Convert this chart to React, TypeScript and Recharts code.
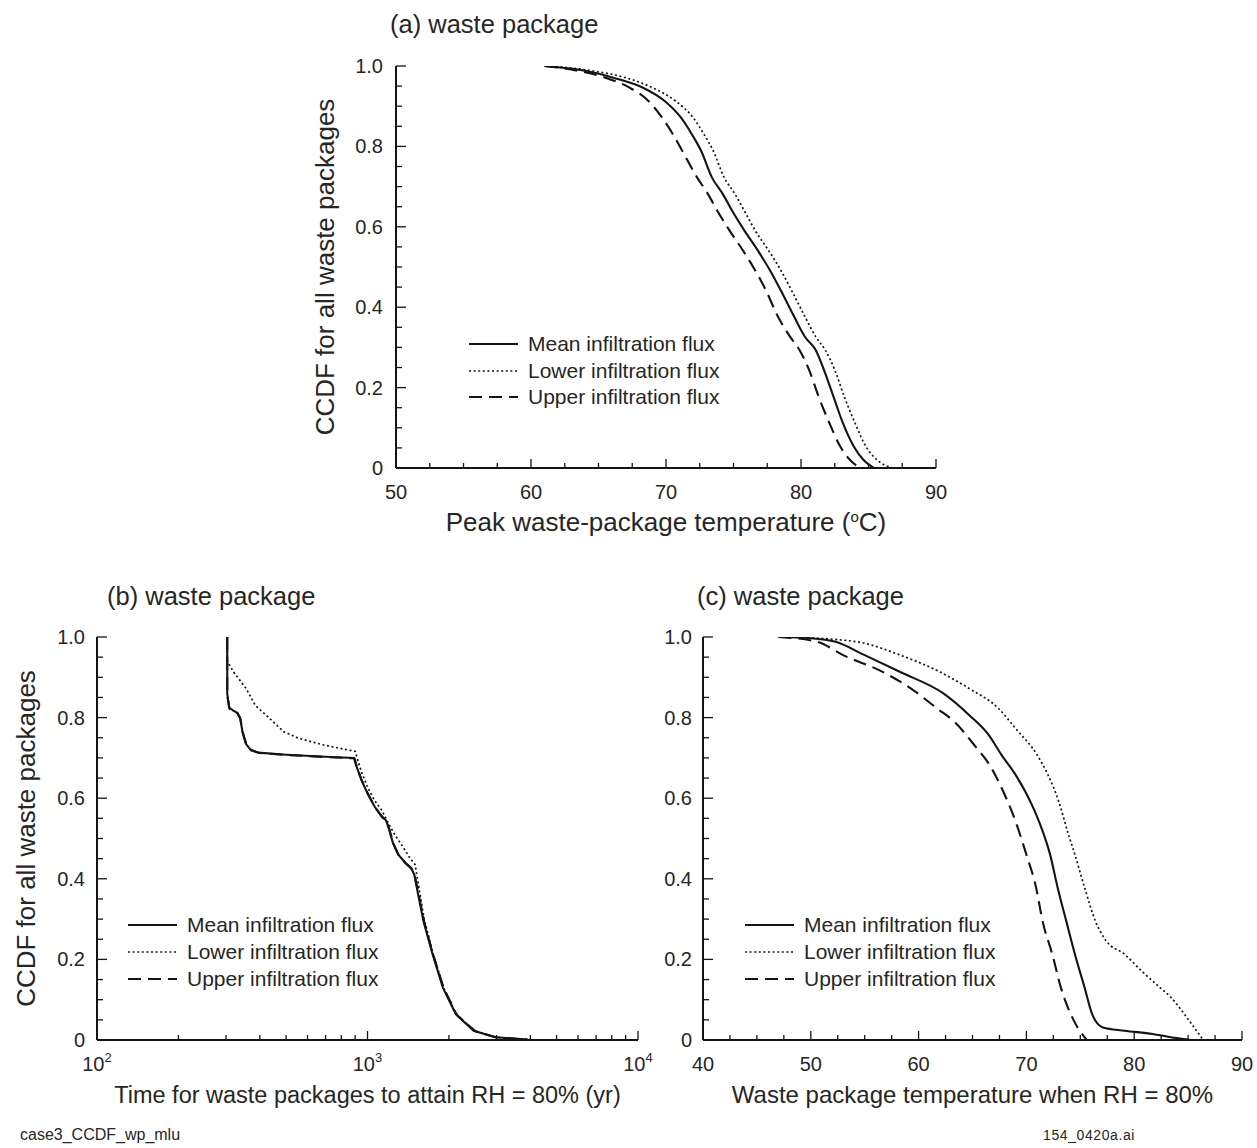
import React from 'react';
import { LineChart, Line, XAxis, YAxis, Legend } from 'recharts';

const FONT = '"Liberation Sans", Arial, Helvetica, sans-serif';
const INK = '#141414';
const TEXT = '#262626';

// ---------- Panel (a): peak waste-package temperature ----------
const aMeanTemp = [61, 64, 66.1, 68.3, 69.9, 71.1, 71.9, 72.6, 73.4, 74.2, 74.9, 75.8, 76.8, 77.7, 78.5, 79.5, 80.3, 81.1, 81.7, 82.4, 83.1, 83.9, 84.6, 85.4];
const aMeanCcdf = [1, 0.988, 0.971, 0.946, 0.913, 0.872, 0.831, 0.789, 0.723, 0.682, 0.64, 0.591, 0.541, 0.492, 0.442, 0.376, 0.326, 0.293, 0.244, 0.178, 0.112, 0.054, 0.021, 0];
const aLowerTemp = [61.5, 64.5, 67, 69, 70.7, 72, 72.8, 73.5, 74.3, 75.1, 75.8, 76.6, 77.6, 78.5, 79.3, 80.3, 81.1, 81.8, 82.5, 83.2, 84, 84.8, 85.6, 86.8];
const aLowerCcdf = [1, 0.988, 0.971, 0.946, 0.913, 0.872, 0.831, 0.789, 0.723, 0.682, 0.64, 0.591, 0.541, 0.492, 0.442, 0.376, 0.326, 0.293, 0.244, 0.178, 0.112, 0.054, 0.021, 0];
const aUpperTemp = [61, 63.5, 65.5, 67.3, 68.7, 69.7, 70.5, 71.2, 72.3, 73.1, 73.8, 74.7, 75.7, 76.6, 77.4, 78.3, 79.2, 79.9, 80.6, 81.3, 82.1, 82.9, 83.6, 84.4];
const aUpperCcdf = [1, 0.988, 0.971, 0.946, 0.913, 0.872, 0.831, 0.789, 0.723, 0.682, 0.64, 0.591, 0.541, 0.492, 0.442, 0.376, 0.326, 0.293, 0.244, 0.178, 0.112, 0.054, 0.021, 0];

// ---------- Panel (b): time to attain RH = 80% (yr) ----------
const bMeanTime = [303, 303, 308, 318, 330, 338, 345, 355, 370, 395, 500, 700, 890, 915, 950, 1000, 1060, 1130, 1170, 1200, 1240, 1300, 1380, 1450, 1490, 1540, 1610, 1740, 1900, 2120, 2470, 2970, 3900];
const bMeanCcdf = [1, 0.86, 0.825, 0.818, 0.812, 0.8, 0.765, 0.735, 0.72, 0.713, 0.708, 0.703, 0.7, 0.675, 0.645, 0.612, 0.58, 0.555, 0.545, 0.525, 0.49, 0.46, 0.44, 0.427, 0.41, 0.36, 0.295, 0.213, 0.13, 0.064, 0.023, 0.007, 0.001];
const bLowerTime = [303, 303, 320, 356, 385, 422, 490, 555, 688, 902, 915, 950, 1000, 1060, 1130, 1190, 1260, 1350, 1440, 1500, 1530, 1620, 1750, 1910, 2130, 2480, 2980, 3900];
const bLowerCcdf = [1, 0.94, 0.913, 0.872, 0.83, 0.806, 0.765, 0.749, 0.732, 0.716, 0.7, 0.665, 0.628, 0.595, 0.57, 0.54, 0.51, 0.48, 0.45, 0.435, 0.4, 0.3, 0.213, 0.13, 0.064, 0.023, 0.007, 0.001];
const bUpperTime = [303, 303, 309, 320, 331, 339, 346, 357, 372, 398, 510, 710, 895, 920, 955, 1005, 1065, 1135, 1175, 1205, 1245, 1305, 1385, 1455, 1495, 1550, 1620, 1750, 1915, 2140, 2500, 3000, 3900];
const bUpperCcdf = [1, 0.855, 0.822, 0.816, 0.81, 0.797, 0.762, 0.733, 0.719, 0.712, 0.707, 0.702, 0.699, 0.672, 0.642, 0.61, 0.578, 0.552, 0.543, 0.522, 0.488, 0.458, 0.438, 0.425, 0.408, 0.358, 0.293, 0.211, 0.128, 0.062, 0.022, 0.006, 0.001];

// ---------- Panel (c): waste package temperature when RH = 80% ----------
const cMeanTemp = [47, 50, 52.3, 55, 58.3, 62.3, 64.7, 66.5, 67.7, 69, 70.5, 71.4, 72.2, 72.9, 73.7, 74.5, 75.4, 76.1, 77.1, 79.1, 81.7, 83.4, 85.1];
const cMeanCcdf = [1, 0.997, 0.988, 0.955, 0.913, 0.86, 0.806, 0.757, 0.707, 0.658, 0.584, 0.526, 0.46, 0.378, 0.295, 0.213, 0.13, 0.064, 0.031, 0.023, 0.015, 0.007, 0.001];
const cLowerTemp = [48, 54.3, 58.3, 62, 64.7, 67.4, 69, 71, 72, 73, 73.9, 74.5, 75.4, 76.4, 77.4, 79.1, 80.7, 82.4, 83.4, 85.1, 86.4];
const cLowerCcdf = [1, 0.988, 0.955, 0.913, 0.872, 0.823, 0.773, 0.707, 0.658, 0.592, 0.51, 0.46, 0.378, 0.295, 0.246, 0.213, 0.171, 0.13, 0.106, 0.048, 0];
const cUpperTemp = [47, 50.6, 53, 56.7, 59.3, 61.7, 63.3, 65.4, 66.4, 68, 69, 70, 70.9, 71.5, 72.4, 73.2, 74.4, 75.6];
const cUpperCcdf = [1, 0.988, 0.955, 0.913, 0.872, 0.823, 0.79, 0.724, 0.69, 0.608, 0.542, 0.46, 0.378, 0.295, 0.213, 0.13, 0.048, 0];

// ---------- Labels and ticks ----------
const seriesNames = ['Mean infiltration flux', 'Lower infiltration flux', 'Upper infiltration flux'];
const panelTitles = ['(a) waste package', '(b) waste package', '(c) waste package'];
const yAxisTitle = 'CCDF for all waste packages';
const xTitleB = 'Time for waste packages to attain RH = 80% (yr)';
const xTitleC = 'Waste package temperature when RH = 80%';
const footerLeft = 'case3_CCDF_wp_mlu';
const footerRight = '154_0420a.ai';
const ccdfTicks = [0, 0.05, 0.1, 0.15, 0.2, 0.25, 0.3, 0.35, 0.4, 0.45, 0.5, 0.55, 0.6, 0.65, 0.7, 0.75, 0.8, 0.85, 0.9, 0.95, 1];
const tempTicksA = [50, 52.5, 55, 57.5, 60, 62.5, 65, 67.5, 70, 72.5, 75, 77.5, 80, 82.5, 85, 87.5, 90];
const timeTicksB = [100, 200, 300, 400, 500, 600, 700, 800, 900, 1000, 2000, 3000, 4000, 5000, 6000, 7000, 8000, 9000, 10000];
const tempTicksC = [40, 42.5, 45, 47.5, 50, 52.5, 55, 57.5, 60, 62.5, 65, 67.5, 70, 72.5, 75, 77.5, 80, 82.5, 85, 87.5, 90];

const zip = (xs: number[], ps: number[]) => xs.map((x, i) => ({ x, p: ps[i] }));

const LINE_STYLES: Record<string, { dash?: string; width: number }> = {
  solid: { width: 2.1 },
  dotted: { dash: '2 2.6', width: 1.7 },
  dashed: { dash: '13 7', width: 2.1 },
};
const styleOrder = ['solid', 'dotted', 'dashed'];

const isMajorY = (v: number) => Math.abs(v * 5 - Math.round(v * 5)) < 1e-6;
const fmtY = (v: number) => (v === 0 ? '0' : v.toFixed(1));
const isMajorTen = (v: number) => Math.abs(v / 10 - Math.round(v / 10)) < 1e-6;
const fmtPlain = (v: number) => String(v);
const isMajorDecade = (v: number) => [100, 1000, 10000].includes(v);
const fmtPow = (v: number) => (
  <>
    <tspan>10</tspan>
    <tspan dy={-9} fontSize={13}>{Math.round(Math.log10(v))}</tspan>
  </>
);

const tickTextStyle: React.CSSProperties = { fontFamily: FONT, fontSize: 20, fill: TEXT };

const bottomTick = (isMajor: (v: number) => boolean, fmt: (v: number) => React.ReactNode) => (props: any) => {
  const { x, y, payload } = props;
  const v = payload.value;
  const major = isMajor(v);
  return (
    <g>
      <line x1={x} y1={y} x2={x} y2={y - (major ? 9 : 5)} stroke={INK} strokeWidth={1.3} />
      {major && (
        <text x={x} y={y + 31} textAnchor="middle" style={tickTextStyle}>
          {fmt(v)}
        </text>
      )}
    </g>
  );
};
const topTick = (isMajor: (v: number) => boolean) => (props: any) => {
  const { x, y, payload } = props;
  const major = isMajor(payload.value);
  return <line x1={x} y1={y} x2={x} y2={y + (major ? 9 : 5)} stroke={INK} strokeWidth={1.3} />;
};
const leftTick = (gap: number) => (props: any) => {
  const { x, y, payload } = props;
  const v = payload.value;
  const major = isMajorY(v);
  return (
    <g>
      <line x1={x} y1={y} x2={x + (major ? 10 : 6)} y2={y} stroke={INK} strokeWidth={1.3} />
      {major && (
        <text x={x - gap} y={y + 7} textAnchor="end" style={tickTextStyle}>
          {fmtY(v)}
        </text>
      )}
    </g>
  );
};
const rightTick = (props: any) => {
  const { x, y, payload } = props;
  const major = isMajorY(payload.value);
  return <line x1={x} y1={y} x2={x - (major ? 10 : 6)} y2={y} stroke={INK} strokeWidth={1.3} />;
};

type Box = { left: number; top: number; width: number; height: number };
type Plot = { left: number; right: number; top: number; bottom: number };

type PanelProps = {
  box: Box;
  plot: Plot;
  xDomain: [number, number];
  xTicks: number[];
  xScale: 'linear' | 'log';
  isMajorX: (v: number) => boolean;
  fmtX: (v: number) => React.ReactNode;
  xTitle: React.ReactNode;
  xTitleSize: number;
  yTitle?: string;
  yLabelGap: number;
  series: { x: number; p: number }[][];
  lineType: 'linear' | 'monotone';
  legendLeft: number;
  legendFirstRow: number;
  legendRowH: number;
};

function Panel(props: PanelProps) {
  const { box, plot } = props;
  const margin = { top: plot.top - box.top, right: box.left + box.width - plot.right, left: 0, bottom: 0 };
  const yAxisWidth = plot.left - box.left;
  const xAxisHeight = box.top + box.height - plot.bottom;
  const plotW = plot.right - plot.left;
  const plotH = plot.bottom - plot.top;

  const legendContent = () => (
    <div style={{ fontFamily: FONT, fontSize: 21, color: TEXT }}>
      {seriesNames.map((name, i) => {
        const st = LINE_STYLES[styleOrder[i]];
        return (
          <div key={name} style={{ display: 'flex', alignItems: 'center', height: props.legendRowH, whiteSpace: 'nowrap' }}>
            <svg width={49} height={10} style={{ display: 'block' }}>
              <line x1={0} y1={5} x2={49} y2={5} stroke={INK} strokeWidth={st.width} strokeDasharray={st.dash} />
            </svg>
            <span style={{ marginLeft: 10 }}>{name}</span>
          </div>
        );
      })}
    </div>
  );

  return (
    <div style={{ position: 'absolute', left: box.left, top: box.top, width: box.width, height: box.height }}>
      <LineChart width={box.width} height={box.height} margin={margin}>
        <XAxis
          xAxisId="b"
          type="number"
          dataKey="x"
          scale={props.xScale}
          domain={props.xDomain}
          ticks={props.xTicks}
          interval={0}
          tickSize={0}
          tickMargin={0}
          height={xAxisHeight}
          allowDataOverflow
          axisLine={{ stroke: INK, strokeWidth: 2 }}
          tickLine={false}
          tick={bottomTick(props.isMajorX, props.fmtX)}
          label={(lp: any) => (
            <text
              x={plot.left - box.left + plotW / 2}
              y={plotH + margin.top + 55 + 8}
              textAnchor="middle"
              style={{ fontFamily: FONT, fontSize: props.xTitleSize, fill: TEXT }}
            >
              {props.xTitle}
            </text>
          )}
        />
        <XAxis
          xAxisId="t"
          orientation="top"
          type="number"
          dataKey="x"
          scale={props.xScale}
          domain={props.xDomain}
          ticks={props.xTicks}
          interval={0}
          tickSize={0}
          tickMargin={0}
          height={0}
          allowDataOverflow
          axisLine={{ stroke: INK, strokeWidth: 2 }}
          tickLine={false}
          tick={topTick(props.isMajorX)}
        />
        <YAxis
          yAxisId="l"
          type="number"
          domain={[0, 1]}
          ticks={ccdfTicks}
          interval={0}
          tickSize={0}
          tickMargin={0}
          width={yAxisWidth}
          allowDataOverflow
          axisLine={{ stroke: INK, strokeWidth: 2 }}
          tickLine={false}
          tick={leftTick(props.yLabelGap)}
          label={
            props.yTitle
              ? (lp: any) => {
                  const cx = yAxisWidth - 71;
                  const cy = margin.top + plotH / 2;
                  return (
                    <text
                      x={cx}
                      y={cy}
                      transform={`rotate(-90 ${cx} ${cy})`}
                      textAnchor="middle"
                      dy={9}
                      style={{ fontFamily: FONT, fontSize: 26, fill: TEXT }}
                    >
                      {props.yTitle}
                    </text>
                  );
                }
              : undefined
          }
        />
        <YAxis
          yAxisId="r"
          orientation="right"
          type="number"
          domain={[0, 1]}
          ticks={ccdfTicks}
          interval={0}
          tickSize={0}
          tickMargin={0}
          width={0}
          allowDataOverflow
          axisLine={{ stroke: INK, strokeWidth: 2 }}
          tickLine={false}
          tick={rightTick}
        />
        {props.series.map((data, i) => {
          const st = LINE_STYLES[styleOrder[i]];
          return (
            <Line
              key={seriesNames[i]}
              name={seriesNames[i]}
              xAxisId="b"
              yAxisId="l"
              data={data}
              dataKey="p"
              type={props.lineType}
              dot={false}
              activeDot={false}
              stroke={INK}
              strokeWidth={st.width}
              strokeDasharray={st.dash}
              isAnimationActive={false}
            />
          );
        })}
        <Legend
          layout="horizontal"
          verticalAlign="middle"
          align="center"
          wrapperStyle={{
            left: props.legendLeft - box.left,
            top: props.legendFirstRow - box.top - props.legendRowH / 2,
            width: 'auto',
            height: 'auto',
          }}
          content={legendContent}
        />
      </LineChart>
    </div>
  );
}

const titleStyle = (left: number, top: number): React.CSSProperties => ({
  position: 'absolute',
  left,
  top,
  fontFamily: FONT,
  fontSize: 25.5,
  lineHeight: '30px',
  color: TEXT,
  whiteSpace: 'nowrap',
});

export default function App() {
  const plotA = { left: 396, right: 936, top: 66, bottom: 468 };
  const plotB = { left: 97, right: 638, top: 637, bottom: 1040 };
  const plotC = { left: 703, right: 1242, top: 637, bottom: 1040 };
  return (
    <div style={{ position: 'absolute', left: 0, top: 0, width: 1257, height: 1148, background: '#fff', overflow: 'hidden' }}>
      <div style={titleStyle(390, 9)}>{panelTitles[0]}</div>
      <div style={titleStyle(107, 581)}>{panelTitles[1]}</div>
      <div style={titleStyle(697, 581)}>{panelTitles[2]}</div>

      <Panel
        box={{ left: 270, top: 40, width: 690, height: 530 }}
        plot={plotA}
        xDomain={[50, 90]}
        xTicks={tempTicksA}
        xScale="linear"
        isMajorX={isMajorTen}
        fmtX={fmtPlain}
        xTitle={
          <>
            <tspan>Peak waste-package temperature (</tspan>
            <tspan dy={-9} fontSize={15}>o</tspan>
            <tspan dy={9}>C)</tspan>
          </>
        }
        xTitleSize={26}
        yTitle={yAxisTitle}
        yLabelGap={13}
        series={[zip(aMeanTemp, aMeanCcdf), zip(aLowerTemp, aLowerCcdf), zip(aUpperTemp, aUpperCcdf)]}
        lineType="monotone"
        legendLeft={469}
        legendFirstRow={344}
        legendRowH={26.5}
      />

      <Panel
        box={{ left: 0, top: 610, width: 682, height: 520 }}
        plot={plotB}
        xDomain={[100, 10000]}
        xTicks={timeTicksB}
        xScale="log"
        isMajorX={isMajorDecade}
        fmtX={fmtPow}
        xTitle={xTitleB}
        xTitleSize={23.5}
        yTitle={yAxisTitle}
        yLabelGap={12}
        series={[zip(bMeanTime, bMeanCcdf), zip(bLowerTime, bLowerCcdf), zip(bUpperTime, bUpperCcdf)]}
        lineType="linear"
        legendLeft={128}
        legendFirstRow={925}
        legendRowH={27}
      />

      <Panel
        box={{ left: 650, top: 610, width: 607, height: 520 }}
        plot={plotC}
        xDomain={[40, 90]}
        xTicks={tempTicksC}
        xScale="linear"
        isMajorX={isMajorTen}
        fmtX={fmtPlain}
        xTitle={xTitleC}
        xTitleSize={24}
        yLabelGap={11}
        series={[zip(cMeanTemp, cMeanCcdf), zip(cLowerTemp, cLowerCcdf), zip(cUpperTemp, cUpperCcdf)]}
        lineType="monotone"
        legendLeft={745}
        legendFirstRow={925}
        legendRowH={27}
      />

      <div style={{ position: 'absolute', left: 20, top: 1126, fontFamily: FONT, fontSize: 16, color: TEXT, whiteSpace: 'nowrap' }}>
        {footerLeft}
      </div>
      <div style={{ position: 'absolute', left: 1043, top: 1127, fontFamily: FONT, fontSize: 14, letterSpacing: 0.6, color: TEXT, whiteSpace: 'nowrap' }}>
        {footerRight}
      </div>
    </div>
  );
}
